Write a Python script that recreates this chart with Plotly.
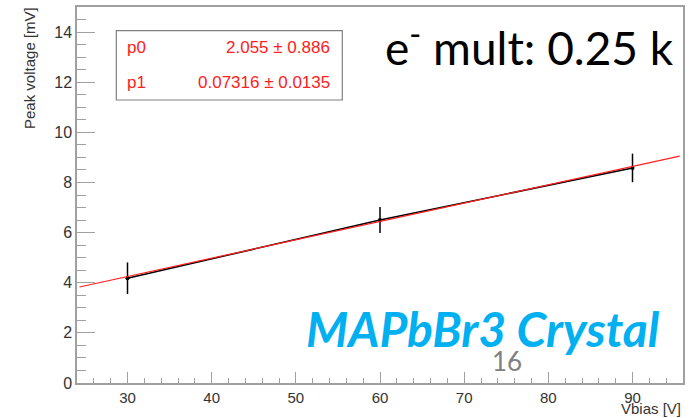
import plotly.graph_objects as go

# Data points (Vbias [V], Peak voltage [mV], error)
vbias = [30, 60, 90]
peak = [4.18, 6.50, 8.58]
peak_err = [0.63, 0.52, 0.57]

# Linear fit (drawn across the axis range)
fit_x = [24.3, 95.6]
fit_y = [3.83, 9.05]

# Fit parameter labels
par_names = ["p0", "p1"]
par_values = ["2.055 ± 0.886", "0.07316 ± 0.0135"]

x_ticks = [30, 40, 50, 60, 70, 80, 90]
y_ticks = [0, 2, 4, 6, 8, 10, 12, 14]

AX = "#a0a0a0"
TXT = "#333333"

fig = go.Figure()
fig.add_trace(go.Scatter(
    x=vbias, y=peak, mode="lines+markers",
    line=dict(color="black", width=1.5),
    marker=dict(color="black", size=4),
    error_y=dict(type="data", array=peak_err, visible=True, color="black", thickness=1.5, width=0),
    showlegend=False, hoverinfo="skip"))
fig.add_trace(go.Scatter(
    x=fit_x, y=fit_y, mode="lines",
    line=dict(color="#ff2020", width=1.2),
    showlegend=False, hoverinfo="skip"))

fig.update_xaxes(range=[24, 96], tickvals=x_ticks, ticks="inside", ticklen=11, tickwidth=1,
                 tickcolor=AX, showline=True, linecolor=AX, linewidth=1.5, mirror=True,
                 showgrid=False, zeroline=False, automargin=False,
                 tickfont=dict(family="Liberation Sans", size=15, color=TXT),
                 minor=dict(dtick=2, ticks="inside", ticklen=5, tickcolor=AX))
fig.update_yaxes(range=[0, 15], tickvals=y_ticks, ticks="inside", ticklen=18, tickwidth=1,
                 tickcolor=AX, showline=True, linecolor=AX, linewidth=1.5, mirror=True,
                 showgrid=False, zeroline=False, automargin=False,
                 tickfont=dict(family="Liberation Sans", size=16, color=TXT),
                 minor=dict(dtick=0.5, ticks="inside", ticklen=9, tickcolor=AX))

W0, W1, H0, H1 = 77, 683, 7, 383
def px(x):
    return (x - W0) / (W1 - W0)
def py(y):
    return (H1 - y) / (H1 - H0)

# Stats box
fig.add_shape(type="rect", xref="paper", yref="paper",
              x0=px(116.3), x1=px(342.3), y0=py(100), y1=py(30.7),
              line=dict(color="#808080", width=1.2), fillcolor="white", layer="above")
for i, (n, v) in enumerate(zip(par_names, par_values)):
    yy = py(47 + i * 35)
    fig.add_annotation(xref="paper", yref="paper", x=px(125), y=yy, text=n, showarrow=False,
                       xanchor="left", yanchor="middle",
                       font=dict(family="Liberation Sans", size=17, color="#ff2020"))
    fig.add_annotation(xref="paper", yref="paper", x=px(332), y=yy, text=v, showarrow=False,
                       xanchor="right", yanchor="middle",
                       font=dict(family="Liberation Sans", size=17, color="#ff2020"))

# Axis titles
fig.add_annotation(xref="paper", yref="paper", x=px(683), y=py(408.5), text="Vbias [V]",
                   showarrow=False, xanchor="right", yanchor="middle",
                   font=dict(family="Liberation Sans", size=15, color=TXT))
fig.add_annotation(xref="paper", yref="paper", x=px(29), y=py(68), text="Peak voltage [mV]",
                   showarrow=False, xanchor="center", yanchor="middle", textangle=-90,
                   font=dict(family="Liberation Sans", size=15, color=TXT))

# Slide texts
fig.add_annotation(xref="paper", yref="paper", x=px(676), y=py(44),
                   text="e<sup>-</sup> mult: 0.25 k", showarrow=False,
                   xanchor="right", yanchor="middle",
                   font=dict(family="Lato", size=46, color="black"))
fig.add_annotation(xref="paper", yref="paper", x=px(662), y=py(328),
                   text="<b><i>MAPbBr3 Crystal</i></b>", showarrow=False,
                   xanchor="right", yanchor="middle",
                   font=dict(family="Lato", size=48, color="#00b0f0"))
fig.add_annotation(xref="paper", yref="paper", x=px(507), y=py(361),
                   text="16", showarrow=False, xanchor="center", yanchor="middle",
                   font=dict(family="Lato", size=26, color="#808080"))

fig.update_layout(width=692, height=418, margin=dict(l=77, r=9, t=7, b=35),
                  plot_bgcolor="white", paper_bgcolor="white")
fig.write_html("out.html", config={"displayModeBar": False},
               post_script="document.body.style.margin='0';")
